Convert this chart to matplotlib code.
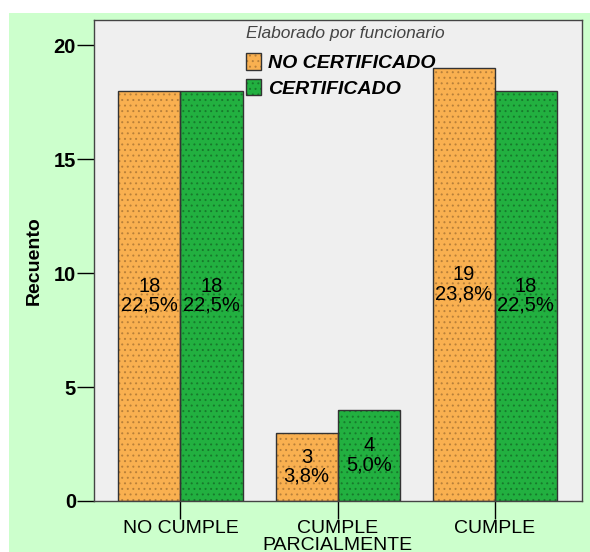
import matplotlib.pyplot as plt
from matplotlib.patches import Rectangle
import numpy as np

categories = ["NO CUMPLE", "CUMPLE\nPARCIALMENTE", "CUMPLE"]
series_names = ["NO CERTIFICADO", "CERTIFICADO"]
no_cert = [18, 3, 19]
cert = [18, 4, 18]
no_cert_pct = ["22,5%", "3,8%", "23,8%"]
cert_pct = ["22,5%", "5,0%", "22,5%"]
colors = ["#F9B050", "#22B040"]
dot_colors = ["#B8803A", "#177A2C"]

plt.rcParams["font.family"] = ["Liberation Sans", "DejaVu Sans"]
plt.rcParams["hatch.linewidth"] = 0.7

fig = plt.figure(figsize=(5.9, 5.52), dpi=100)
fig.patch.set_facecolor("white")
fig.patches.append(Rectangle((9 / 590, 0), 1, 1 - 13 / 552, transform=fig.transFigure,
                             facecolor="#CCFFCC", edgecolor="none", zorder=-10))

ax = fig.add_axes([94 / 590, 51 / 552, 488 / 590, 481 / 552])
ax.set_facecolor("#EFEFEF")

x = np.arange(len(categories))
w = 0.395
handles = []
for vals, pcts, off, col, dcol in [(no_cert, no_cert_pct, -w / 2, colors[0], dot_colors[0]),
                                   (cert, cert_pct, w / 2, colors[1], dot_colors[1])]:
    fill = ax.bar(x + off, vals, width=w, color=col, edgecolor=dcol, linewidth=0,
                  hatch="...", zorder=2)
    edge = ax.bar(x + off, vals, width=w, fill=False, edgecolor="#333333", linewidth=1,
                  zorder=2.5)
    handles.append((fill, edge))
    for xi, v, p in zip(x + off, vals, pcts):
        ax.text(xi, v / 2, f"{v}\n{p}", ha="center", va="center", fontsize=14.5,
                linespacing=1.0, zorder=3)

ax.set_xlim(-0.55, 2.555)
ax.set_ylim(0, 21.1)
ax.set_yticks([0, 5, 10, 15, 20])
ax.set_xticks(x)
ax.set_xticklabels(categories, fontsize=14, linespacing=0.95)
ax.tick_params(axis="y", labelsize=14.5, length=12, width=1, pad=1)
ax.tick_params(axis="x", length=13, width=1, pad=1)
for lab in ax.get_yticklabels():
    lab.set_fontweight("bold")
ax.set_ylabel("Recuento", fontsize=14, fontweight="bold", labelpad=8)

for s in ax.spines.values():
    s.set_color("#444444")
    s.set_linewidth(1)

leg = ax.legend(handles, series_names, loc="upper left", bbox_to_anchor=(0.288, 1.012),
                frameon=False, title="Elaborado por funcionario",
                prop={"size": 14, "weight": "bold", "style": "italic"},
                handlelength=0.75, handleheight=0.95, handletextpad=0.35,
                labelspacing=0.32, borderaxespad=0.2)
leg.get_title().set_fontstyle("italic")
leg.get_title().set_fontsize(12.5)
leg.get_title().set_color("#444444")
leg._legend_box.align = "left"
leg._legend_box.sep = 9

fig.savefig("out.png", dpi=100, facecolor=fig.get_facecolor())
